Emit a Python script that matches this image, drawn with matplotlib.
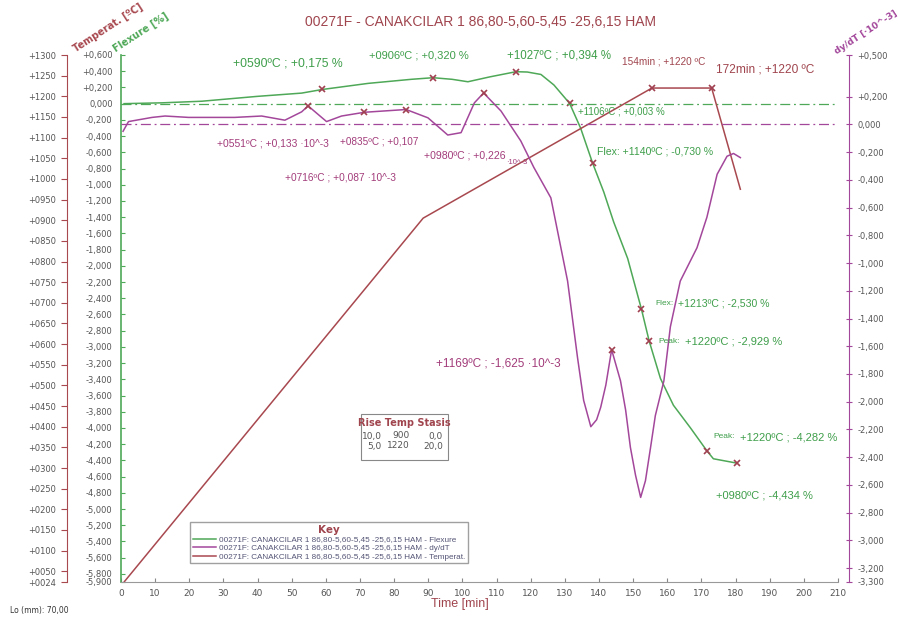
import matplotlib
matplotlib.use('Agg')
import matplotlib.pyplot as plt
from matplotlib.patches import Rectangle

# ---- data ----
flex_t = [0.9, 12, 23.7, 40, 52.9, 59, 72.4, 85, 91.4, 97, 101.6, 108, 115.7, 119, 123,
          126.8, 131.4, 134.6, 138.1, 141.4, 144.3, 148.4, 152.4, 154.7, 158, 161.8,
          166.8, 171.6, 173.5, 180.4]
flex_v = [0.0, 0.01, 0.03, 0.09, 0.13, 0.175, 0.25, 0.30, 0.320, 0.30, 0.27, 0.33, 0.394,
          0.39, 0.36, 0.23, 0.003, -0.30, -0.730, -1.09, -1.46, -1.91, -2.530, -2.929,
          -3.39, -3.72, -4.0, -4.282, -4.38, -4.434]

dydt_t = [0.6, 2.2, 9.1, 12.9, 19.8, 33.3, 41.2, 48, 52.9, 54.8, 60.2, 64.6, 71.3, 83.5,
          89.9, 93.8, 95.7, 99.6, 103.5, 106.2, 111.3, 117.1, 120.9, 125.9, 130.8, 133.7,
          135.5, 137.6, 139.3, 140.5, 142, 143.7, 146.3, 147.8, 149.2, 150.7, 152.2, 153.6,
          155.1, 156.5, 159, 160.9, 163.8, 168.7, 171.6, 174.6, 177.5, 179.4, 181.4]
dydt_v = [-0.05, 0.02, 0.05, 0.06, 0.05, 0.05, 0.06, 0.03, 0.09, 0.133, 0.02, 0.06, 0.087,
          0.107, 0.047, -0.036, -0.077, -0.06, 0.155, 0.226, 0.096, -0.12, -0.31, -0.53,
          -1.13, -1.68, -1.99, -2.18, -2.13, -2.04, -1.88, -1.625, -1.85, -2.06, -2.33,
          -2.53, -2.69, -2.57, -2.33, -2.1, -1.85, -1.46, -1.13, -0.89, -0.67, -0.36,
          -0.23, -0.21, -0.24]

temp_t = [1.0, 88.5, 155.5, 173.0, 181.4]
temp_v = [25, 905, 1220, 1220, 975]

flex_mark_t = [59, 91.4, 115.7, 131.4, 138.1, 152.4, 154.7, 171.6, 180.4]
flex_mark_v = [0.175, 0.320, 0.394, 0.003, -0.730, -2.530, -2.929, -4.282, -4.434]
dydt_mark_t = [54.8, 71.3, 83.5, 106.2, 143.7]
dydt_mark_v = [0.133, 0.087, 0.107, 0.226, -1.625]
temp_mark_t = [155.5, 173.0]
temp_mark_v = [1220, 1220]

temp_ticks = [24] + list(range(50, 1301, 50))
flex_ticks = [-5.9] + [round(-5.8 + 0.2 * i, 1) for i in range(33)]
dydt_ticks = [-3.3] + [round(-3.2 + 0.2 * i, 1) for i in range(18)] + [0.5]
time_ticks = list(range(0, 211, 10))

stasis_rows = [['10,0', '900', '0,0'], ['5,0', '1220', '20,0']]
label_base = '00271F: CANAKCILAR 1 86,80-5,60-5,45 -25,6,15 HAM - '

GREEN = '#4ea857'
MAG = '#a3479b'
RED = '#a8484f'
GTXT = '#3e9e4a'
MTXT = '#a23c7a'
RTXT = '#a0454e'
MARK = '#a04050'
TICKC = '#555555'
ARIAL = ['Liberation Sans', 'DejaVu Sans']

W, H = 898, 618
fig = plt.figure(figsize=(W / 100, H / 100), dpi=100)


def px(x, y):
    return x / W, 1 - y / H


def comma(v):
    if abs(v) < 1e-9:
        return '0,000'
    return f'{v:+.3f}'.replace('.', ',')


left, right, top, bottom = 121, 838, 55, 582
ax = fig.add_axes([left / W, 1 - bottom / H, (right - left) / W, (bottom - top) / H])
ax_t = ax.twinx()
ax_d = ax.twinx()

# flexure (green, inner left)
ln_f, = ax.plot(flex_t, flex_v, color=GREEN, lw=1.1)
ax.plot(flex_mark_t, flex_mark_v, 'x', color=MARK, ms=4, mew=1.2)
ax.axhline(0, color=GREEN, lw=0.9, ls=(0, (8, 3, 1.5, 3)))
ax.set_xlim(0, 210)
ax.set_ylim(-5.9, 0.6)
ax.set_yticks(flex_ticks)
ax.set_yticklabels([comma(v) for v in flex_ticks])
ax.set_xticks(time_ticks)
for s in ['top', 'right']:
    ax.spines[s].set_visible(False)
ax.spines['left'].set_color(GREEN)
ax.spines['left'].set_linewidth(1.2)
ax.spines['bottom'].set_color('#999999')
ax.tick_params(axis='y', colors=TICKC, labelsize=6, length=3, direction='in', pad=6)
ax.tick_params(axis='y', color=GREEN)
ax.tick_params(axis='x', colors=TICKC, labelsize=6.5, length=3, direction='in', pad=5)
ax.tick_params(axis='x', color='#888888')

# temperature (red, outer left)
ln_t, = ax_t.plot(temp_t, temp_v, color=RED, lw=1.1)
ax_t.plot(temp_mark_t, temp_mark_v, 'x', color=MARK, ms=4, mew=1.2)
ax_t.set_ylim(24, 1300)
ax_t.yaxis.tick_left()
ax_t.spines['left'].set_position(('outward', 39))
ax_t.spines['left'].set_visible(True)
ax_t.spines['left'].set_color(RED)
for s in ['top', 'right', 'bottom']:
    ax_t.spines[s].set_visible(False)
ax_t.set_yticks(temp_ticks)
ax_t.set_yticklabels([f'+{v:04d}' for v in temp_ticks])
ax_t.tick_params(axis='y', colors=TICKC, labelsize=6, length=4, direction='out', pad=4)
ax_t.tick_params(axis='y', color=RED)

# dy/dT (magenta, right)
ln_d, = ax_d.plot(dydt_t, dydt_v, color=MAG, lw=1.1)
ax_d.plot(dydt_mark_t, dydt_mark_v, 'x', color=MARK, ms=4, mew=1.2)
ax_d.axhline(0, color=MAG, lw=0.9, ls=(0, (8, 3, 1.5, 3)))
ax_d.set_ylim(-3.3, 0.5)
ax_d.spines['right'].set_position(('outward', 8))
ax_d.spines['right'].set_color(MAG)
for s in ['top', 'left', 'bottom']:
    ax_d.spines[s].set_visible(False)
ax_d.set_yticks(dydt_ticks)
ax_d.set_yticklabels([comma(v) for v in dydt_ticks])
ax_d.tick_params(axis='y', colors=TICKC, labelsize=6, length=4, direction='inout', pad=4)
ax_d.tick_params(axis='y', color=MAG)

# titles and axis names
fig.text(*px(480, 22), '00271F - CANAKCILAR 1 86,80-5,60-5,45 -25,6,15 HAM',
         ha='center', va='center', color=RTXT, fontsize=10, family=ARIAL)
fig.text(*px(108, 28), 'Temperat. [ºC]', rotation=33, ha='center', va='center',
         color=RED, fontsize=7, fontweight='bold')
fig.text(*px(141, 32), 'Flexure [%]', rotation=33, ha='center', va='center',
         color=GREEN, fontsize=7, fontweight='bold')
fig.text(*px(866, 32), 'dy/dT [·10^-3]', rotation=33, ha='center', va='center',
         color=MAG, fontsize=6.5, fontweight='bold')
fig.text(*px(460, 604), 'Time [min]', ha='center', va='center', color=RTXT, fontsize=9,
         family=ARIAL)
fig.text(*px(10, 610), 'Lo (mm): 70,00', ha='left', va='center', color='#333333', fontsize=5.5)

# annotations
notes = [
    (233, 63, '+0590ºC ; +0,175 %', GTXT, 8.8),
    (369, 56, '+0906ºC ; +0,320 %', GTXT, 8),
    (507, 56, '+1027ºC ; +0,394 %', GTXT, 8.3),
    (578, 111, '+1106ºC ; +0,003 %', GTXT, 7),
    (597, 152, 'Flex: +1140ºC ; -0,730 %', GTXT, 7.6),
    (655, 304, 'Flex:', GTXT, 6),
    (678, 304, '+1213ºC ; -2,530 %', GTXT, 7.6),
    (658, 341, 'Peak:', GTXT, 6),
    (685, 341, '+1220ºC ; -2,929 %', GTXT, 8),
    (713, 437, 'Peak:', GTXT, 6),
    (740, 437, '+1220ºC ; -4,282 %', GTXT, 8),
    (716, 496, '+0980ºC ; -4,434 %', GTXT, 8),
    (217, 143, '+0551ºC ; +0,133 ·10^-3', MTXT, 7.4),
    (340, 142, '+0835ºC ; +0,107', MTXT, 7.2),
    (285, 177, '+0716ºC ; +0,087 ·10^-3', MTXT, 7.3),
    (424, 155, '+0980ºC ; +0,226', MTXT, 7.6),
    (506, 163, '·10^-3', MTXT, 5.5),
    (436, 364, '+1169ºC ; -1,625 ·10^-3', MTXT, 8.5),
    (622, 62, '154min ; +1220 ºC', RTXT, 7.2),
    (716, 70, '172min ; +1220 ºC', RTXT, 8.6),
]
for x, y, s, c, fs in notes:
    fig.text(*px(x, y), s, ha='left', va='center', color=c, fontsize=fs, family=ARIAL)

# legend ("Key")
ln_f.set_label(label_base + 'Flexure')
ln_d.set_label(label_base + 'dy/dT')
ln_t.set_label(label_base + 'Temperat.')
leg = fig.legend(handles=[ln_f, ln_d, ln_t], loc='upper left', bbox_to_anchor=px(190, 522),
                 title='Key', prop={'family': ARIAL, 'size': 5.9}, title_fontsize=7.5,
                 frameon=True, fancybox=False, edgecolor='#888888', handlelength=2.8,
                 borderpad=0.35, labelspacing=0.1, handletextpad=0.4, borderaxespad=0)
leg.get_title().set_color(RTXT)
leg.get_title().set_fontweight('bold')
for t in leg.get_texts():
    t.set_color('#555577')

# rise / temp / stasis box
bx0, by0 = px(361, 460)
bx1, by1 = px(448, 414)
fig.patches.append(Rectangle((bx0, by0), bx1 - bx0, by1 - by0, transform=fig.transFigure,
                             fill=False, edgecolor='#888888', lw=0.8))
fig.text(*px(404, 423), 'Rise Temp Stasis', ha='center', va='center', color=RTXT,
         fontsize=7, fontweight='bold')
col_x = [382, 410, 443]
for r, row in enumerate(stasis_rows):
    for c, val in enumerate(row):
        fig.text(*px(col_x[c], 436 + r * 10), val, ha='right', va='center',
                 color='#555555', fontsize=6.5)

fig.savefig('out.png', dpi=100)
